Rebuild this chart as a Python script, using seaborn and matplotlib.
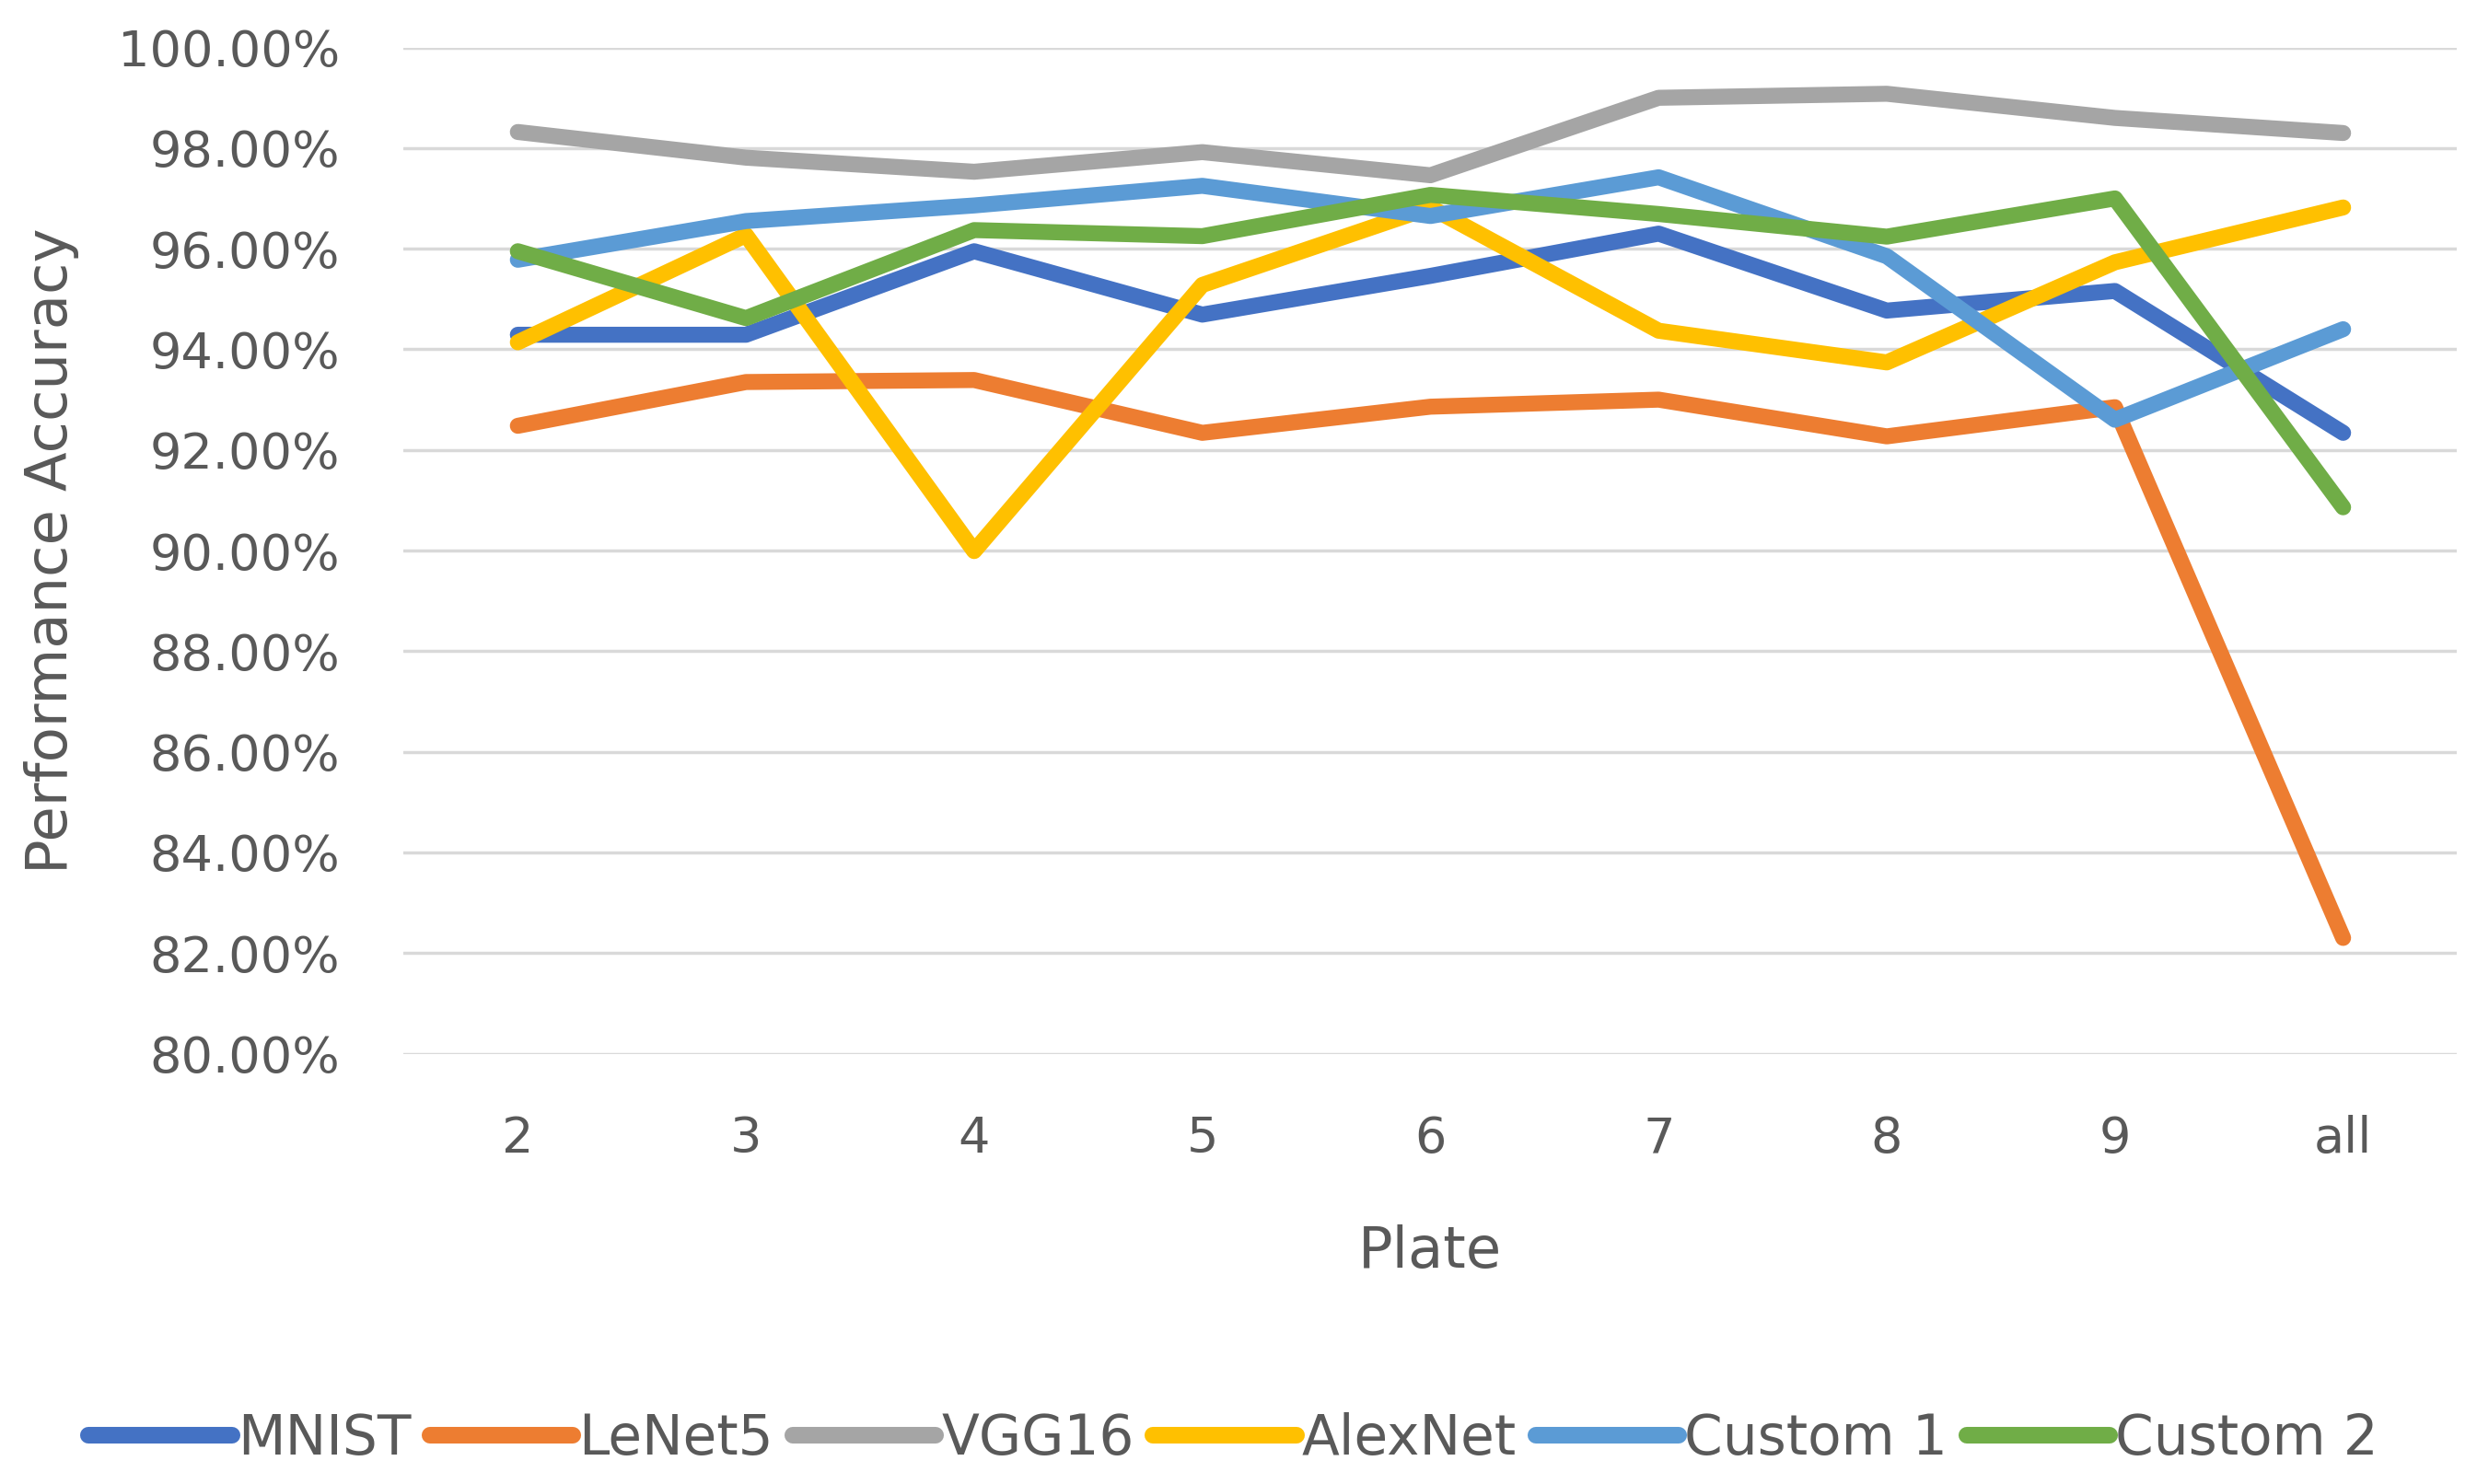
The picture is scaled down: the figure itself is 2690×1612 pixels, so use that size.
import pandas as pd
import matplotlib
matplotlib.use("Agg")
import matplotlib.pyplot as plt
from matplotlib.ticker import PercentFormatter, MultipleLocator
import seaborn as sns

# values (accuracy in %)
plates = ["2", "3", "4", "5", "6", "7", "8", "9", "all"]
mnist = [94.29, 94.29, 95.95, 94.69, 95.46, 96.30, 94.77, 95.16, 92.34]
lenet5 = [92.48, 93.35, 93.39, 92.34, 92.86, 93.00, 92.27, 92.85, 82.30]
vgg16 = [98.32, 97.81, 97.53, 97.92, 97.46, 99.00, 99.08, 98.60, 98.30]
alexnet = [94.14, 96.27, 89.99, 95.28, 96.82, 94.37, 93.74, 95.73, 96.82]
custom1 = [95.78, 96.55, 96.86, 97.25, 96.65, 97.42, 95.85, 92.60, 94.40]
custom2 = [95.95, 94.62, 96.37, 96.25, 97.07, 96.69, 96.24, 97.00, 90.86]

models = ["MNIST", "LeNet5", "VGG16", "AlexNet", "Custom 1", "Custom 2"]
colors = ["#4472C4", "#ED7D31", "#A5A5A5", "#FFC000", "#5B9BD5", "#70AD47"]

series = [mnist, lenet5, vgg16, alexnet, custom1, custom2]
df = pd.concat(
    [pd.DataFrame({"Plate": plates, "Accuracy": vals, "Model": name})
     for name, vals in zip(models, series)],
    ignore_index=True,
)

sns.set_style("white")
plt.rcParams["font.family"] = ["DejaVu Sans"]
text_color = "#595959"

fig = plt.figure(figsize=(26.9, 16.12), dpi=100)
ax = fig.add_axes([0.163, 0.290, 0.829, 0.678])

sns.lineplot(data=df, x="Plate", y="Accuracy", hue="Model", palette=colors,
             hue_order=models, sort=False, linewidth=12.5, ax=ax, zorder=3)
for line in ax.get_lines():
    line.set_solid_joinstyle("round")
    line.set_solid_capstyle("round")

ax.set_xlim(-0.5, 8.5)
ax.set_ylim(80, 100)
ax.yaxis.set_major_locator(MultipleLocator(2))
ax.yaxis.set_major_formatter(PercentFormatter(decimals=2))
ax.grid(axis="y", color="#D9D9D9", linewidth=2.5, zorder=0)
ax.grid(axis="x", visible=False)
for s in ax.spines.values():
    s.set_visible(False)

ax.tick_params(axis="both", length=0, labelsize=39, labelcolor=text_color)
ax.tick_params(axis="x", pad=48)
ax.tick_params(axis="y", pad=50)
ax.set_xlabel("Plate", fontsize=45, color=text_color, labelpad=48)
ax.set_ylabel("Performance Accuracy", fontsize=45, color=text_color, labelpad=30)

handles, labels = ax.get_legend_handles_labels()
ax.legend(handles, labels, loc="center", bbox_to_anchor=(0.498, 0.030),
          bbox_transform=fig.transFigure, ncol=6, frameon=False,
          fontsize=43, handlelength=2.6, handletextpad=0.1, columnspacing=0.35,
          labelcolor=text_color)
for line in ax.get_legend().get_lines():
    line.set_linewidth(13)

fig.savefig("out.png", dpi=100)
